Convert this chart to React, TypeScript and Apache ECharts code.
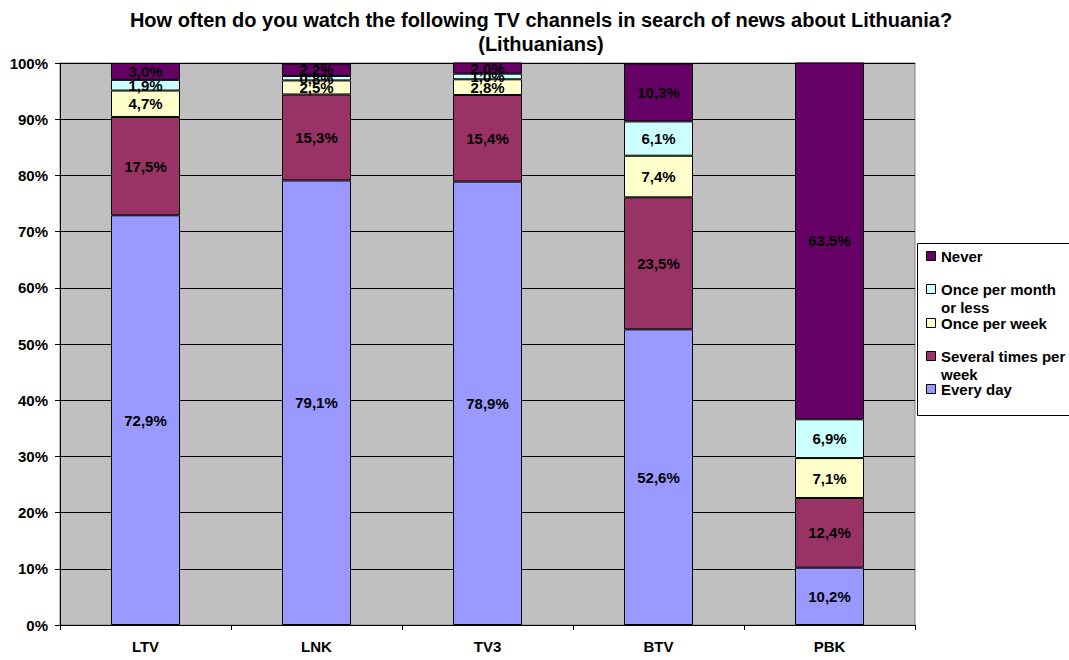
import React, { useEffect, useRef } from "react";
import * as echarts from "echarts";

const categories = ["LTV", "LNK", "TV3", "BTV", "PBK"];
const everyDay = [72.9, 79.1, 78.9, 52.6, 10.2];
const severalTimes = [17.5, 15.3, 15.4, 23.5, 12.4];
const oncePerWeek = [4.7, 2.5, 2.8, 7.4, 7.1];
const oncePerMonth = [1.9, 0.8, 1.0, 6.1, 6.9];
const never = [3.0, 2.2, 2.0, 10.3, 63.5];

const seriesNames = ["Every day", "Several times per\nweek", "Once per week", "Once per month\nor less", "Never"];
const seriesColors = ["#9999FF", "#993366", "#FFFFCC", "#CCFFFF", "#660066"];
const seriesData = [everyDay, severalTimes, oncePerWeek, oncePerMonth, never];

const FONT = "'Liberation Sans', Arial, sans-serif";

export default function App() {
  const ref = useRef<HTMLDivElement>(null);
  useEffect(() => {
    if (!ref.current) return;
    const chart = echarts.init(ref.current, null, { renderer: "svg" });
    const legendOrder = [4, 3, 2, 1, 0];
    const legendTops = [251, 284, 318, 351, 384];
    const legendChildren: any[] = [
      {
        type: "rect",
        shape: { x: 917.5, y: 243.5, width: 165, height: 172 },
        style: { fill: "#FFFFFF", stroke: "#000000", lineWidth: 1 },
      },
    ];
    legendOrder.forEach((si, k) => {
      legendChildren.push({
        type: "rect",
        shape: { x: 926.5, y: legendTops[k] + 0.5, width: 9, height: 9 },
        style: { fill: seriesColors[si], stroke: "#000000", lineWidth: 1 },
      });
      legendChildren.push({
        type: "text",
        x: 941,
        y: legendTops[k] - 4,
        style: {
          text: seriesNames[si],
          font: `bold 15px ${FONT}`,
          fill: "#000000",
          lineHeight: 18,
          textVerticalAlign: "top",
        },
      });
    });

    chart.setOption({
      animation: false,
      backgroundColor: "#FFFFFF",
      title: {
        text: "How often do you watch the following TV channels in search of news about Lithuania?\n(Lithuanians)",
        left: 536,
        textAlign: "center",
        top: 3,
        textStyle: { fontFamily: FONT, fontWeight: "bold", fontSize: 20, color: "#000", lineHeight: 24 },
      },
      grid: { left: 60, top: 63, right: 154, bottom: 35, show: true, backgroundColor: "#C0C0C0", borderColor: "#808080", borderWidth: 1 },
      xAxis: {
        type: "category",
        data: categories,
        axisLine: { lineStyle: { color: "#000", width: 1 } },
        axisTick: { show: true, length: 5, lineStyle: { color: "#000" } },
        axisLabel: { fontFamily: FONT, fontWeight: "bold", fontSize: 15, color: "#000", margin: 14 },
      },
      yAxis: {
        type: "value",
        min: 0,
        max: 100,
        interval: 10,
        axisLine: { show: true, lineStyle: { color: "#000", width: 1 } },
        axisTick: { show: true, length: 5, lineStyle: { color: "#000" } },
        splitLine: { show: true, lineStyle: { color: "#000", width: 1 } },
        axisLabel: { fontFamily: FONT, fontWeight: "bold", fontSize: 15, color: "#000", margin: 12, formatter: "{value}%" },
      },
      series: seriesData.map((d, i) => ({
        name: seriesNames[i],
        type: "bar",
        stack: "total",
        barWidth: 69,
        data: d,
        itemStyle: { color: seriesColors[i], borderColor: "#000", borderWidth: 1 },
        label: {
          show: true,
          position: "inside",
          fontFamily: FONT,
          fontWeight: "bold",
          fontSize: 15,
          color: "#000",
          formatter: (p: any) => p.value.toFixed(1).replace(".", ",") + "%",
        },
      })),
      graphic: legendChildren,
    });
    return () => chart.dispose();
  }, []);
  return <div ref={ref} style={{ position: "fixed", left: 0, top: 0, width: 1069, height: 660 }} />;
}
